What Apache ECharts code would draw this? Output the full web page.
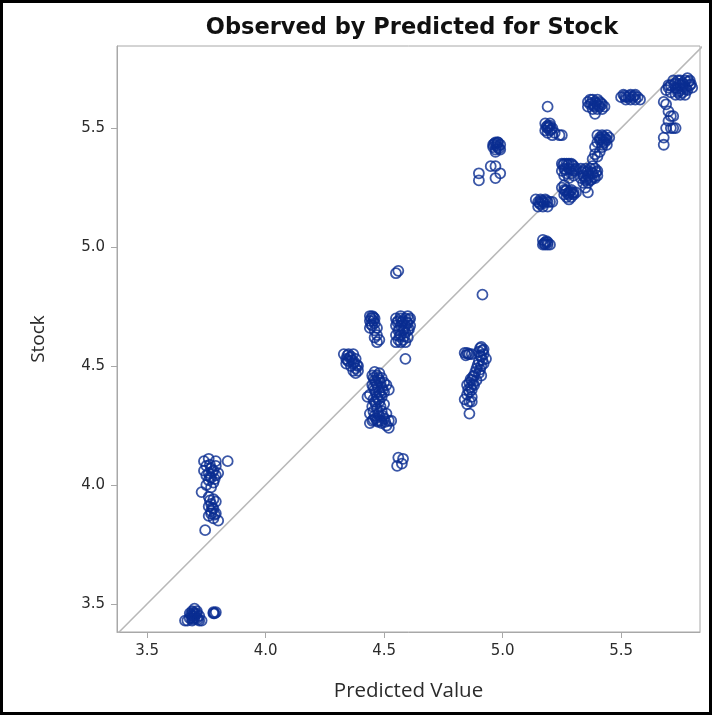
<!DOCTYPE html>
<html>
<head>
<meta charset="utf-8">
<script src="https://cdn.jsdelivr.net/npm/echarts@6/dist/echarts.min.js"></script>
<style>
  html, body { margin: 0; padding: 0; background: #fff; }
  #chart { width: 712px; height: 715px; }
</style>
</head>
<body>
<div id="chart"></div>
<script>
// Observed (Stock) vs predicted value, grouped by cluster of predictions
const xTicks = [3.5, 4.0, 4.5, 5.0, 5.5];
const yTicks = [3.5, 4.0, 4.5, 5.0, 5.5];
const identityLine = [[3.3, 3.3], [5.9, 5.9]];

const groupA = [
  [3.67,3.43],[3.68,3.44],[3.69,3.45],[3.70,3.46],[3.69,3.47],[3.70,3.48],[3.71,3.47],
  [3.69,3.43],[3.71,3.44],[3.72,3.43],[3.73,3.43],[3.70,3.45],[3.68,3.46],[3.71,3.46],
  [3.70,3.44],[3.72,3.45],[3.69,3.44],[3.66,3.43],
  [3.685,3.455],[3.695,3.465],[3.705,3.455],[3.695,3.435],[3.715,3.435],
  [3.78,3.465],[3.79,3.465],[3.785,3.46],[3.78,3.46]
];
const groupB = [
  [3.74,4.10],[3.76,4.11],[3.79,4.10],[3.84,4.10],[3.75,4.08],[3.77,4.07],[3.79,4.08],
  [3.74,4.06],[3.76,4.05],[3.78,4.06],[3.80,4.05],[3.75,4.04],[3.77,4.03],[3.79,4.04],
  [3.76,4.02],[3.78,4.01],[3.75,4.00],[3.77,3.99],[3.73,3.97],[3.76,3.95],[3.78,3.94],
  [3.77,3.92],[3.79,3.93],[3.76,3.91],[3.78,3.90],[3.77,3.89],[3.79,3.88],[3.76,3.87],
  [3.78,3.86],[3.80,3.85],[3.77,3.88],[3.745,3.81],
  [3.765,4.085],[3.775,4.055],[3.765,4.035],[3.785,4.025],[3.765,3.935],[3.775,3.905],
  [3.785,3.875]
];
const groupC = [
  [4.33,4.55],[4.35,4.55],[4.37,4.55],[4.34,4.53],[4.36,4.54],[4.38,4.53],[4.35,4.52],
  [4.37,4.51],[4.39,4.50],[4.36,4.50],[4.38,4.49],[4.37,4.48],[4.39,4.48],[4.34,4.51],
  [4.38,4.47],[4.345,4.545],[4.355,4.535],[4.365,4.525],[4.375,4.515],[4.385,4.505],
  [4.345,4.525]
];
const groupD = [
  [4.44,4.71],[4.45,4.71],[4.46,4.70],[4.44,4.69],[4.46,4.68],[4.45,4.67],[4.44,4.66],
  [4.47,4.66],[4.46,4.65],[4.47,4.63],[4.46,4.62],[4.48,4.61],[4.47,4.60],
  [4.445,4.70],[4.455,4.69],[4.445,4.675],[4.455,4.705]
];
const groupE = [
  [4.55,4.70],[4.57,4.70],[4.59,4.70],[4.61,4.70],[4.56,4.69],[4.58,4.69],[4.60,4.68],
  [4.55,4.67],[4.57,4.67],[4.59,4.67],[4.61,4.67],[4.56,4.65],[4.58,4.65],[4.60,4.65],
  [4.55,4.63],[4.57,4.63],[4.59,4.64],[4.56,4.61],[4.58,4.61],[4.60,4.62],[4.57,4.60],
  [4.59,4.60],[4.55,4.60],[4.555,4.685],[4.575,4.685],[4.595,4.685],[4.565,4.655],
  [4.585,4.655],[4.605,4.655],[4.565,4.625],[4.585,4.625],[4.605,4.695],[4.57,4.71],
  [4.60,4.71],
  [4.59,4.53],[4.55,4.89],[4.56,4.90]
];
const groupF = [
  [4.46,4.475],[4.48,4.47],
  [4.45,4.46],[4.47,4.46],[4.49,4.45],[4.46,4.44],[4.48,4.44],[4.50,4.43],[4.45,4.42],
  [4.47,4.42],[4.49,4.41],[4.51,4.42],[4.52,4.40],[4.46,4.40],[4.48,4.39],[4.50,4.39],
  [4.44,4.38],[4.47,4.37],[4.49,4.37],[4.43,4.37],[4.46,4.35],[4.48,4.35],[4.50,4.34],
  [4.45,4.33],[4.47,4.32],[4.49,4.31],[4.51,4.30],[4.44,4.30],[4.46,4.29],[4.48,4.29],
  [4.50,4.28],[4.52,4.27],[4.45,4.27],[4.47,4.27],[4.49,4.26],[4.44,4.26],[4.51,4.25],
  [4.53,4.27],[4.52,4.24],
  [4.455,4.45],[4.475,4.45],[4.465,4.43],[4.485,4.43],[4.455,4.41],[4.475,4.41],
  [4.495,4.40],[4.465,4.39],[4.485,4.38],[4.455,4.36],[4.475,4.36],[4.465,4.34],
  [4.485,4.33],[4.455,4.31],[4.475,4.30],[4.495,4.29],[4.465,4.28],[4.485,4.27],
  [4.505,4.265],[4.455,4.275],[4.475,4.265]
];
const groupG = [
  [4.56,4.115],[4.58,4.11],[4.555,4.08],[4.575,4.09]
];
const groupH = [
  [4.84,4.555],[4.85,4.555],[4.86,4.55],[4.845,4.545],[4.855,4.55],[4.87,4.55],
  [4.91,4.58],[4.92,4.57],[4.90,4.56],[4.92,4.55],[4.91,4.54],[4.93,4.53],[4.90,4.52],
  [4.92,4.51],[4.91,4.50],[4.89,4.49],[4.90,4.47],[4.88,4.46],[4.91,4.46],[4.87,4.44],
  [4.86,4.43],[4.88,4.42],[4.85,4.42],[4.87,4.40],[4.86,4.39],[4.85,4.38],[4.87,4.37],
  [4.84,4.36],[4.86,4.35],[4.85,4.34],[4.87,4.35],[4.86,4.30],[4.89,4.44],
  [4.905,4.575],[4.915,4.565],[4.905,4.545],[4.915,4.525],[4.895,4.505],[4.905,4.485],
  [4.885,4.475],[4.875,4.455],[4.865,4.445],[4.875,4.425],[4.865,4.41],[4.855,4.40],
  [4.915,4.80]
];
const groupI = [
  [4.96,5.43],[4.97,5.44],[4.98,5.44],[4.99,5.43],[4.96,5.42],[4.98,5.42],[4.97,5.41],
  [4.99,5.41],[4.97,5.40],[4.98,5.44],[4.965,5.435],[4.975,5.425],[4.985,5.415],
  [4.975,5.435],
  [4.90,5.31],[4.90,5.28],[4.95,5.34],[4.97,5.34],[4.99,5.31],[4.97,5.29]
];
const groupJ = [
  [5.19,5.59],
  [5.18,5.52],[5.19,5.51],[5.20,5.51],[5.21,5.50],[5.19,5.50],[5.18,5.49],[5.20,5.49],
  [5.22,5.48],[5.19,5.48],[5.21,5.47],[5.24,5.47],[5.25,5.47],[5.20,5.52],
  [5.195,5.505],[5.205,5.495],[5.185,5.505],
  [5.14,5.20],[5.15,5.19],[5.16,5.20],[5.17,5.19],[5.18,5.20],[5.19,5.19],[5.20,5.19],
  [5.15,5.17],[5.17,5.17],[5.19,5.17],[5.21,5.19],[5.16,5.18],
  [5.165,5.195],[5.175,5.185],[5.185,5.195],[5.155,5.185],
  [5.17,5.03],[5.18,5.02],[5.19,5.01],[5.17,5.01],[5.18,5.01],[5.20,5.01],[5.19,5.02],
  [5.175,5.015],[5.185,5.025]
];
const groupK = [
  [5.25,5.35],[5.26,5.35],[5.27,5.35],[5.28,5.35],[5.29,5.35],[5.30,5.34],[5.26,5.33],
  [5.28,5.33],[5.30,5.32],[5.25,5.32],[5.27,5.31],[5.29,5.31],[5.31,5.33],[5.26,5.30],
  [5.28,5.29],[5.30,5.30],
  [5.255,5.345],[5.275,5.345],[5.295,5.345],[5.265,5.325],[5.285,5.325],[5.305,5.325],
  [5.33,5.33],[5.34,5.32],[5.35,5.33],[5.36,5.32],[5.37,5.33],[5.38,5.34],[5.39,5.33],
  [5.40,5.32],[5.34,5.30],[5.36,5.30],[5.38,5.31],[5.33,5.29],[5.35,5.28],[5.37,5.28],
  [5.39,5.29],[5.40,5.30],[5.36,5.27],[5.34,5.27],
  [5.335,5.315],[5.355,5.315],[5.375,5.315],[5.395,5.315],[5.345,5.295],[5.365,5.295],
  [5.385,5.295],[5.355,5.285],[5.375,5.285],
  [5.26,5.26],[5.35,5.25],[5.36,5.23],
  [5.25,5.25],[5.26,5.24],[5.27,5.24],[5.28,5.23],[5.29,5.24],[5.30,5.23],[5.26,5.22],
  [5.28,5.22],[5.30,5.22],[5.27,5.21],[5.29,5.21],[5.28,5.20],[5.31,5.23],
  [5.265,5.235],[5.285,5.235],[5.275,5.225],[5.295,5.225]
];
const groupL = [
  [5.36,5.61],[5.37,5.62],[5.38,5.62],[5.39,5.61],[5.40,5.62],[5.41,5.61],[5.42,5.60],
  [5.43,5.59],[5.37,5.60],[5.39,5.59],[5.41,5.59],[5.36,5.59],[5.38,5.58],[5.40,5.58],
  [5.42,5.58],[5.39,5.56],
  [5.375,5.605],[5.395,5.605],[5.415,5.605],[5.385,5.595],[5.405,5.595],
  [5.40,5.47],[5.41,5.46],[5.42,5.47],[5.43,5.46],[5.44,5.47],[5.41,5.45],[5.43,5.44],
  [5.42,5.43],[5.44,5.43],[5.40,5.44],[5.42,5.42],[5.44,5.45],[5.45,5.46],[5.39,5.42],
  [5.415,5.455],[5.425,5.445],[5.435,5.455],[5.425,5.465],
  [5.39,5.39],[5.40,5.38],[5.38,5.37],[5.41,5.40],
  [5.50,5.63],[5.51,5.64],[5.52,5.63],[5.53,5.63],[5.54,5.64],[5.55,5.63],[5.56,5.62],
  [5.57,5.63],[5.58,5.62],[5.52,5.62],[5.54,5.62],[5.56,5.64],
  [5.515,5.635],[5.535,5.635],[5.555,5.635]
];
const groupM = [
  [5.69,5.66],[5.70,5.67],[5.71,5.68],[5.72,5.70],[5.73,5.69],[5.74,5.70],[5.75,5.70],
  [5.76,5.69],[5.77,5.70],[5.78,5.71],[5.79,5.70],[5.73,5.67],[5.75,5.68],[5.77,5.67],
  [5.79,5.68],[5.74,5.65],[5.76,5.65],[5.78,5.66],[5.80,5.67],[5.73,5.64],[5.75,5.64],
  [5.77,5.64],[5.71,5.65],[5.70,5.68],
  [5.725,5.685],[5.745,5.685],[5.765,5.685],[5.785,5.695],[5.735,5.665],[5.755,5.665],
  [5.775,5.665],[5.795,5.685],[5.745,5.655],[5.765,5.675],
  [5.68,5.61],[5.69,5.60],[5.70,5.57],[5.71,5.55],[5.70,5.53],[5.69,5.50],[5.72,5.50],
  [5.71,5.50],[5.68,5.46],[5.68,5.43],[5.73,5.50],[5.72,5.55]
];

const observed = [].concat(groupA, groupB, groupC, groupD, groupE, groupF, groupG,
                           groupH, groupI, groupJ, groupK, groupL, groupM);

const frameColor = '#a8a8a8';
const textColor = '#2b2b2b';
const tickFont = '"DejaVu Sans", sans-serif';
const nameFont = '"Open Sans", "Noto Sans", sans-serif';

const chart = echarts.init(document.getElementById('chart'), null, { renderer: 'canvas' });
chart.setOption({
  backgroundColor: '#ffffff',
  animation: false,
  title: {
    text: 'Observed by Predicted for Stock',
    left: 407, top: 12, textAlign: 'center',
    textStyle: { fontFamily: tickFont, fontWeight: 'bold', fontSize: 22.5, color: '#111' }
  },
  grid: {
    left: 117, right: 12, top: 46, bottom: 83,
    show: true, borderColor: frameColor, borderWidth: 1, backgroundColor: 'transparent'
  },
  xAxis: {
    type: 'value', min: 3.373, max: 5.833,
    name: 'Predicted Value', nameLocation: 'middle', nameGap: 49,
    nameTextStyle: { fontFamily: nameFont, fontSize: 20.5, color: textColor },
    axisLine: { show: true, lineStyle: { color: frameColor, width: 1 } },
    axisTick: { show: true, length: 6, customValues: xTicks, lineStyle: { color: frameColor } },
    axisLabel: { customValues: xTicks, margin: 12, fontFamily: tickFont, fontSize: 15, color: textColor,
                 formatter: v => v.toFixed(1) },
    splitLine: { show: false }
  },
  yAxis: {
    type: 'value', min: 3.382, max: 5.845,
    name: 'Stock', nameLocation: 'middle', nameGap: 69,
    nameTextStyle: { fontFamily: nameFont, fontSize: 19, color: textColor },
    axisLine: { show: true, lineStyle: { color: frameColor, width: 1 } },
    axisTick: { show: true, length: 6, customValues: yTicks, lineStyle: { color: frameColor } },
    axisLabel: { customValues: yTicks, margin: 12, fontFamily: tickFont, fontSize: 15, color: textColor,
                 formatter: v => v.toFixed(1) },
    splitLine: { show: false }
  },
  graphic: [{
    type: 'rect', silent: true, z: 100,
    shape: { x: 1.5, y: 1.5, width: 709, height: 712 },
    style: { fill: 'none', stroke: '#000', lineWidth: 3 }
  }],
  series: [
    {
      type: 'line', data: identityLine, symbol: 'none', clip: true, silent: true, z: 1,
      lineStyle: { color: '#b8b8b8', width: 1.5 }
    },
    {
      type: 'scatter', data: observed, symbol: 'circle', symbolSize: 10, z: 2,
      itemStyle: { color: 'rgba(0,0,0,0)', borderColor: '#0a2d91', borderWidth: 1.8 }
    }
  ]
});
</script>
</body>
</html>
